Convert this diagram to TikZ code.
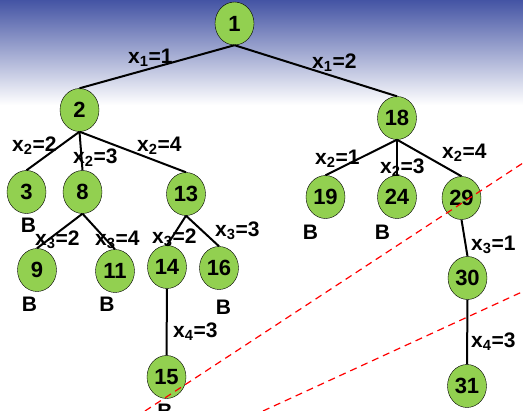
\documentclass[tikz,border=0pt]{standalone}
\usepackage{fontspec}
\setmainfont{Liberation Sans}
\usetikzlibrary{shapes.geometric}
\definecolor{leafgreen}{RGB}{146,208,80}
\definecolor{slideblue}{RGB}{68,84,164}
\newcommand\xeq[2]{x\textsubscript{#1}=#2}

\begin{document}
\begin{tikzpicture}[x=1pt,y=-1pt,
  tnode/.style={ellipse,draw,thin,fill=leafgreen,minimum width=39pt,minimum height=43pt,inner sep=0pt,font=\fontsize{22}{22}\selectfont\bfseries},
  lab/.style={anchor=west,inner sep=0pt,font=\fontsize{21}{21}\selectfont\bfseries},
  bnd/.style={inner sep=0pt,font=\fontsize{21}{21}\selectfont\bfseries},
  edge/.style={line width=2pt},
  cut/.style={red,line width=1.2pt,dash pattern=on 7pt off 5pt}]
  \useasboundingbox (0,0) rectangle (523,411);
  \shade[top color=slideblue,bottom color=white] (0,0) rectangle (523,105);

  % search tree nodes
  \node[tnode] (n1) at (234.5,23.5) {1};
  \node[tnode] (n2) at (79.5,110) {2};
  \node[tnode] (n18) at (397,118) {18};
  \node[tnode] (n3) at (26.5,192) {3};
  \node[tnode] (n8) at (82.5,192) {8};
  \node[tnode] (n13) at (186,194) {13};
  \node[tnode] (n19) at (325.5,197) {19};
  \node[tnode] (n24) at (397,197) {24};
  \node[tnode] (n29) at (461.5,198) {29};
  \node[tnode] (n9) at (37,270) {9};
  \node[tnode] (n11) at (115,271) {11};
  \node[tnode] (n14) at (167,267) {14};
  \node[tnode] (n16) at (219,268) {16};
  \node[tnode] (n30) at (467.5,278) {30};
  \node[tnode] (n15) at (166.5,377) {15};
  \node[tnode] (n31) at (467,386) {31};

  \foreach \a/\b in {n1/n2,n1/n18,n2/n3,n2/n8,n2/n13,n8/n9,n8/n11,n13/n14,n13/n16,n14/n15,n18/n19,n18/n24,n18/n29,n29/n30,n30/n31}
    \draw[edge] (\a.south) -- (\b.north);

  % branch labels
  \node[lab] (l12) at (128,58) {\xeq{1}{1}};
  \node[lab] (l118) at (312,63) {\xeq{1}{2}};
  \node[lab] (l23) at (12,146) {\xeq{2}{2}};
  \node[lab] (l28) at (73,157.5) {\xeq{2}{3}};
  \node[lab] (l213) at (137,146) {\xeq{2}{4}};
  \node[lab] (l89) at (35,239.5) {\xeq{3}{2}};
  \node[lab] (l811) at (95,239.5) {\xeq{3}{4}};
  \node[lab] (l1314) at (152,237.5) {\xeq{3}{2}};
  \node[lab] (l1316) at (215,231) {\xeq{3}{3}};
  \node[lab] (l1415) at (173,332) {\xeq{4}{3}};
  \node[lab] (l1819) at (315,159) {\xeq{2}{1}};
  \node[lab] (l1824) at (380,167.5) {\xeq{2}{3}};
  \node[lab] (l1829) at (442,152.5) {\xeq{2}{4}};
  \node[lab] (l2930) at (471,245) {\xeq{3}{1}};
  \node[lab] (l3031) at (471,342) {\xeq{4}{3}};

  % bounded leaves
  \node[bnd] (b3) at (28.5,225) {B};
  \node[bnd] (b9) at (29.5,304) {B};
  \node[bnd] (b11) at (107,304) {B};
  \node[bnd] (b16) at (223.5,307.5) {B};
  \node[bnd] (b19) at (310.5,232.5) {B};
  \node[bnd] (b24) at (382.5,232.5) {B};
  \node[bnd] (b15) at (165,411.5) {B};

  \draw[cut] (145,411) -- (523,163);
  \draw[cut] (263,411) -- (523,291.5);
\end{tikzpicture}
\end{document}
